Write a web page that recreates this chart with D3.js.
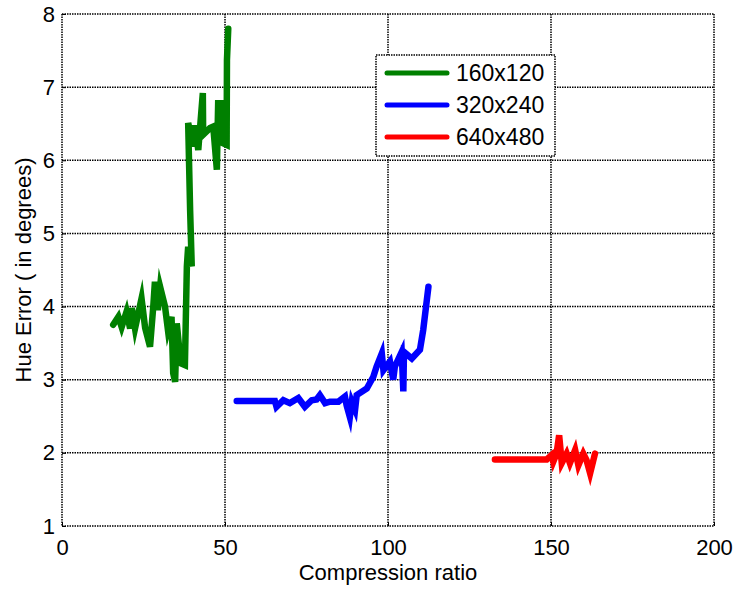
<!DOCTYPE html>
<html>
<head>
<meta charset="utf-8">
<script src="https://cdn.jsdelivr.net/npm/d3@7"></script>
<style>
body { margin: 0; background: #fff; }
text { font-family: "Liberation Sans", Arial, sans-serif; }
</style>
</head>
<body>
<svg id="chart"></svg>
<script>
// Data: [compression ratio, hue error]
const series160 = [
  [15.7,3.75],[17.3,3.86],[18.3,3.72],[19.8,3.93],[20.9,3.70],[21.4,3.98],[22.4,3.70],
  [24.4,4.11],[25.5,3.71],[27.0,3.45],[28.0,4.00],[28.5,4.34],[29.4,3.95],[30.1,4.27],
  [31.6,4.00],[32.5,3.68],[33.6,3.86],[34.1,3.09],[34.7,2.97],[35.2,3.77],[36.2,3.32],
  [36.7,3.22],[37.7,3.20],[38.3,4.55],[38.7,4.82],[39.8,4.55],[39.3,5.32],[38.7,6.51],
  [40.3,6.19],[40.8,6.48],[41.8,6.14],[43.2,6.92],[43.3,6.35],[45.4,6.44],[46.4,6.46],
  [47.5,5.87],[47.9,6.78],[49.0,6.78],[49.5,6.23],[50.5,6.21],[50.6,7.37],[51.0,7.80]
];
const series320 = [
  [53.6,2.71],[65.3,2.71],[65.8,2.63],[67.9,2.72],[69.9,2.68],[72.5,2.75],[74.5,2.63],
  [76.6,2.72],[78.1,2.73],[79.1,2.79],[80.7,2.68],[82.2,2.70],[84.8,2.70],[86.8,2.77],
  [87.3,2.65],[88.3,2.49],[88.9,2.70],[89.9,2.59],[90.4,2.79],[93.5,2.88],[95.5,3.04],
  [96.5,3.18],[98.1,3.36],[98.6,3.13],[100.6,3.25],[101.6,3.00],[102.1,3.18],[104.2,3.38],
  [104.7,2.84],[104.9,3.38],[107.3,3.29],[109.8,3.41],[110.8,3.68],[112.4,4.27]
];
const series640 = [
  [132.8,1.91],[148.7,1.91],[150.2,1.97],[150.7,1.88],[151.7,1.99],[152.5,2.24],[153.3,1.86],
  [154.8,1.99],[155.8,1.86],[157.4,2.04],[158.4,1.83],[159.9,1.99],[160.9,1.90],[162.0,1.72],
  [163.5,1.99]
];
const seriesNames = ["160x120", "320x240", "640x480"];
const seriesColors = ["#008000", "#0000ff", "#ff0000"];
const xTicks = [0, 50, 100, 150, 200];
const yTicks = [1, 2, 3, 4, 5, 6, 7, 8];

const W = 737, H = 592;
const margin = {top: 14, right: 23, bottom: 66, left: 62},
  width = W - margin.left - margin.right,
  height = H - margin.top - margin.bottom;
const fs = 22;

const svg = d3.select("#chart").attr("width", W).attr("height", H);
const g = svg.append("g").attr("transform", `translate(${margin.left},${margin.top})`);

const x = d3.scaleLinear().domain([0, 200]).range([0, width]);
const y = d3.scaleLinear().domain([1, 8]).range([height, 0]);

const dots = "1.5,1";

// grid + frame
g.append("g").selectAll("line").data(xTicks).join("line")
  .attr("x1", d => x(d)).attr("x2", d => x(d)).attr("y1", 0).attr("y2", height)
  .attr("stroke", "#000").attr("stroke-width", 1.5).attr("stroke-dasharray", dots);
g.append("g").selectAll("line").data(yTicks).join("line")
  .attr("y1", d => y(d)).attr("y2", d => y(d)).attr("x1", 0).attr("x2", width)
  .attr("stroke", "#000").attr("stroke-width", 1.5).attr("stroke-dasharray", dots);

// axes (inward ticks, MATLAB style)
const xAxis = g.append("g").attr("transform", `translate(0,${height})`)
  .call(d3.axisBottom(x).tickValues(xTicks).tickFormat(d3.format("d"))
    .tickSizeInner(-4).tickSizeOuter(0).tickPadding(13));
const yAxis = g.append("g")
  .call(d3.axisLeft(y).tickValues(yTicks).tickFormat(d3.format("d"))
    .tickSizeInner(-4).tickSizeOuter(0).tickPadding(7));
[xAxis, yAxis].forEach(a => {
  a.select(".domain").remove();
  a.selectAll("text").attr("font-size", fs).attr("fill", "#000")
    .attr("font-family", "'Liberation Sans', Arial, sans-serif");
  a.selectAll(".tick line").attr("stroke", "#000");
});

// series
const line = d3.line().x(d => x(d[0])).y(d => y(d[1]));
[series160, series320, series640].forEach((s, i) => {
  g.append("path").datum(s).attr("d", line)
    .attr("fill", "none").attr("stroke", seriesColors[i])
    .attr("stroke-width", 6.5).attr("stroke-linejoin", "miter")
    .attr("stroke-miterlimit", 6).attr("stroke-linecap", "round");
});

// legend
const leg = svg.append("g").attr("transform", "translate(376,55)");
leg.append("rect").attr("width", 179).attr("height", 101)
  .attr("fill", "#fff").attr("stroke", "#000").attr("stroke-width", 1.5)
  .attr("stroke-dasharray", dots);
seriesNames.forEach((n, i) => {
  const cy = 18 + i * 32;
  leg.append("line").attr("x1", 11).attr("x2", 71).attr("y1", cy).attr("y2", cy)
    .attr("stroke", seriesColors[i]).attr("stroke-width", 5).attr("stroke-linecap", "round");
  leg.append("text").attr("x", 80).attr("y", cy).attr("dy", "0.36em")
    .attr("font-size", 23).text(n);
});

// axis titles
svg.append("text").attr("x", margin.left + width / 2).attr("y", 580)
  .attr("text-anchor", "middle").attr("font-size", fs).text("Compression ratio");
svg.append("text").attr("transform", `translate(31,${margin.top + height / 2}) rotate(-90)`)
  .attr("text-anchor", "middle").attr("font-size", fs).text("Hue Error ( in degrees)");
</script>
</body>
</html>
